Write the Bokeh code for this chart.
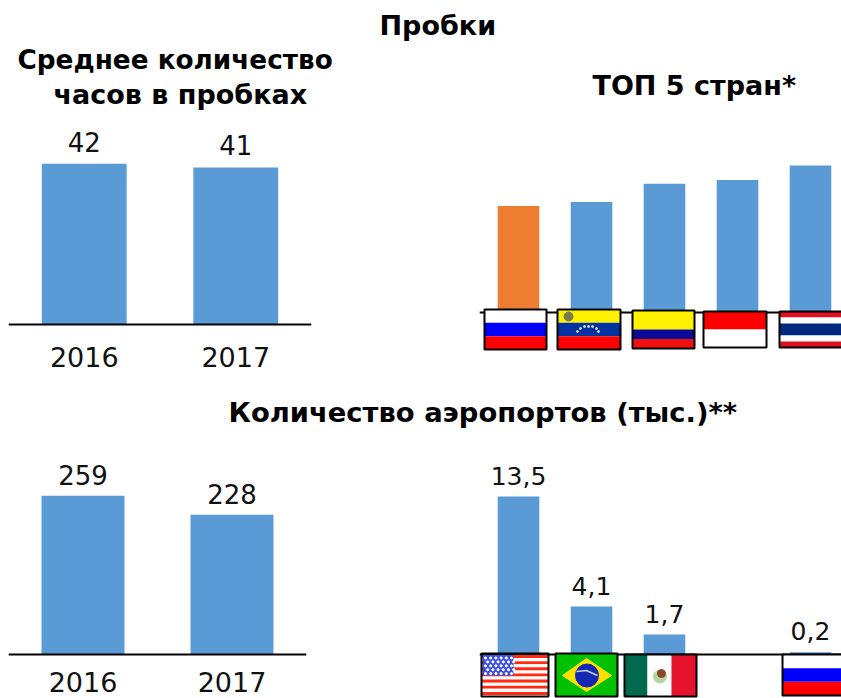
from bokeh.plotting import figure
from bokeh.layouts import column, row
from bokeh.models import Range1d, FactorRange, FixedTicker, Title
from bokeh.core.properties import value
from bokeh.embed import file_html
from bokeh.resources import INLINE

FONT = "DejaVu Sans"
BLUE = "#5b9bd5"
ORANGE = "#ed7d31"

title_main = "Пробки"
title_hours_1 = "Среднее количество"
title_hours_2 = "часов в пробках"
title_top5 = "ТОП 5 стран*"
title_airports = "Количество аэропортов (тыс.)**"

years = ["2016", "2017"]
hours = [42, 41]
airports = [259, 228]

top5_countries = ["Россия", "Венесуэла", "Колумбия", "Индонезия", "Таиланд"]
top5_values = [41, 42.5, 49.5, 51, 56.5]
top5_colors = [ORANGE, BLUE, BLUE, BLUE, BLUE]

airport_countries = ["США", "Бразилия", "Мексика", "", "Россия"]
airport_values = [13.5, 4.1, 1.7, None, 0.2]
airport_labels = ["13,5", "4,1", "1,7", "", "0,2"]


def base_fig(width, height, left, right, top, bottom, x_range, y_range):
    p = figure(width=width, height=height, x_range=x_range, y_range=y_range,
               output_backend="svg", toolbar_location=None, tools="",
               min_border_left=left, min_border_right=right,
               min_border_top=top, min_border_bottom=bottom,
               y_axis_location=None, background_fill_color="white",
               border_fill_color="white", outline_line_color=None)
    p.grid.visible = False
    return p


def style_axis(ax, font_size, standoff):
    ax.fixed_location = 0
    ax.axis_line_color = "black"
    ax.axis_line_width = 2
    ax.major_tick_line_color = None
    ax.minor_tick_line_color = None
    ax.major_tick_in = 0
    ax.major_tick_out = 0
    ax.major_label_text_font = FONT
    ax.major_label_text_font_size = font_size
    ax.major_label_text_color = "#111111"
    ax.major_label_standoff = standoff


def set_title(t, text, offset=0, size="27px", standoff=0):
    t.text = text
    t.align = "left"
    t.offset = offset
    t.text_font = FONT
    t.text_font_style = "bold"
    t.text_font_size = size
    t.text_color = "black"
    t.standoff = standoff


def title_strip(text, width, height, top, offset, size="27px"):
    p = base_fig(width, height, 0, 0, top, 0, Range1d(0, 1), Range1d(0, 1))
    p.xaxis.visible = False
    set_title(p.title, text, offset, size)
    return p


def year_chart(vals, bar_w, width, height, page_y0, page_top, left, right, page_base, px_per_unit, standoff, lab_off):
    page_bottom = page_y0 + height
    yr = Range1d((page_base - page_bottom) / px_per_unit, (page_base - page_top) / px_per_unit)
    p = base_fig(width, height, left, right, page_top - page_y0, 0,
                 FactorRange(*years, range_padding=0), yr)
    p.vbar(x=years, top=vals, bottom=0, width=bar_w, color=BLUE, line_color=None)
    p.text(x=years, y=vals, text=[str(v) for v in vals], text_font=value(FONT),
           text_font_size="26px", text_align="center", text_baseline="bottom",
           y_offset=lab_off, text_color="#111111")
    style_axis(p.xaxis[0], "27px", standoff)
    return p


def country_chart(names, vals, colors, width, height, page_y0, page_top, page_left, page_right,
                  page_base, page_x0, px_per_unit, slot_px):
    left = page_left - page_x0
    page_bottom = page_y0 + height
    xr = Range1d(-(FIRST_CENTER - page_left) / slot_px, (page_right - FIRST_CENTER) / slot_px)
    yr = Range1d((page_base - page_bottom) / px_per_unit, (page_base - page_top) / px_per_unit)
    p = base_fig(width, height, left, 0, page_top - page_y0, 0, xr, yr)
    p.extra_x_ranges = {"px": Range1d(page_left, page_right)}
    p.extra_y_ranges = {"px": Range1d(page_bottom, page_top)}
    idx = list(range(len(names)))
    xs = [i for i, v in zip(idx, vals) if v is not None]
    ys = [v for v in vals if v is not None]
    cs = [c for c, v in zip(colors, vals) if v is not None]
    p.vbar(x=xs, top=ys, bottom=0, width=BAR_SLOT, color=cs, line_color=None)
    p.xaxis.ticker = FixedTicker(ticks=[])
    style_axis(p.xaxis[0], "10px", 0)
    return p


def q(p, x0, x1, y0, y1, color, line=None, lw=0):
    p.quad(left=[x0], right=[x1], top=[y0], bottom=[y1], fill_color=color, line_color=line,
           line_width=lw, x_range_name="px", y_range_name="px", level="overlay")


def flag(p, x0, x1, y0, y1, bands):
    """Horizontal-striped flag: bands = [(colour, share), ...]"""
    tot = sum(s for _, s in bands)
    y = y0
    for c, s in bands:
        h = (y1 - y0) * s / tot
        q(p, x0, x1, y, y + h, c)
        y += h
    border(p, x0, x1, y0, y1)


def border(p, x0, x1, y0, y1):
    q(p, x0, x1, y0, y1, None, "black", 2)


RU = [("white", 1), ("#0000ff", 1), ("#ff0000", 1)]
FIRST_CENTER = 518
BAR_SLOT = 0.57

# ---------- top row ----------
strip1 = title_strip(title_main, 841, 44, 40, 379)

ROW2_Y = 44
ROW2_H = 343
chart_hours = year_chart(hours, 0.56, 348, ROW2_H, ROW2_Y, 112, 8, 37, 324, 3.83, 22, -12)
set_title(chart_hours.title, title_hours_1, 9, "26.3px", -3)
t2 = Title()
set_title(t2, title_hours_2, 45, "27px", 6)
chart_hours.add_layout(t2, "above")

chart_top5 = country_chart(top5_countries, top5_values, top5_colors, 493, ROW2_H, ROW2_Y, 112, 479, 841,
                           312, 348, 2.6, 73)
set_title(chart_top5.title, title_top5, 113, "27px", 24)

p = chart_top5
flag(p, 484, 546, 309, 349, RU)
flag(p, 557, 620, 309, 349, [("#fff200", 1), ("#0033a0", 1), ("#ff0000", 1)])
p.scatter(x=[568], y=[316], size=9, color="#7a7a50", x_range_name="px", y_range_name="px", level="overlay")
p.scatter(x=[577, 580, 584, 588, 592, 596, 598], y=[331, 328, 326, 326, 326, 328, 331], size=2,
          color="#dfe3ef", x_range_name="px", y_range_name="px", level="overlay")
flag(p, 632, 694, 310, 348, [("#fff200", 2), ("#0a0a96", 1), ("#f01010", 1)])
flag(p, 703, 766, 311, 347, [("#ff0000", 1), ("white", 1)])
flag(p, 779, 845, 311, 347, [("#e01020", 1), ("white", 1), ("#002a80", 2), ("white", 1), ("#e01020", 1)])

# ---------- section title ----------
strip2 = title_strip(title_airports, 841, 46, 40, 228, "27.4px")

# ---------- bottom row ----------
chart_airports = year_chart(airports, 0.557, 348, 265, 433, 441, 8, 42, 654, 0.613, 17, -11)

chart_world = country_chart(airport_countries, airport_values, [BLUE] * 5, 493, 265, 433, 441, 479, 841,
                            654, 348, 11.7, 73)
p = chart_world
lab_x = [i for i, v in enumerate(airport_values) if v is not None]
lab_y = [v for v in airport_values if v is not None]
lab_t = [t for t in airport_labels if t]
p.text(x=lab_x, y=lab_y, text=lab_t, text_font=value(FONT), text_font_size="25px",
       text_align="center", text_baseline="bottom", y_offset=-12, text_color="#111111")

# USA
x0, x1, y0, y1 = 481, 548, 653, 696
n = 13
for i in range(n):
    h = (y1 - y0 - 3) / n
    q(p, x0, x1, y0 + 1.5 + i * h, y0 + 1.5 + (i + 1) * h, "#ff2a10" if i % 2 == 0 else "white")
q(p, x0 + 1, 513, y0 + 1.5, 675, "#3c50e0")
sx, sy = [], []
for r in range(5):
    for c in range(6):
        sx.append(x0 + 4 + c * 5.2 + (r % 2) * 2.2)
        sy.append(y0 + 4.5 + r * 3.9)
p.scatter(x=sx, y=sy, size=2.2, color="white", x_range_name="px", y_range_name="px", level="overlay")
border(p, x0, x1, y0, y1)

# Brazil
x0, x1, y0, y1 = 555, 617, 653, 696
q(p, x0, x1, y0, y1, "#00c000")
p.patch(x=[562, 586, 611, 586], y=[675, 658, 675, 691], color="#ffe000",
        x_range_name="px", y_range_name="px", level="overlay")
p.scatter(x=[586.5], y=[675], size=23, color="#1428b4", x_range_name="px", y_range_name="px", level="overlay")
p.line(x=[576, 586, 597], y=[671, 670, 675], color="#c8d2e8", line_width=1.5,
       x_range_name="px", y_range_name="px", level="overlay")
border(p, x0, x1, y0, y1)

# Mexico
x0, x1, y0, y1 = 624, 696, 654, 696
q(p, x0, 647, y0, y1, "#006a4e")
q(p, 647, 671, y0, y1, "white")
q(p, 671, x1, y0, y1, "#e5132b")
p.scatter(x=[659.5], y=[676], size=13, color="#b8d4a0", x_range_name="px", y_range_name="px", level="overlay")
p.scatter(x=[661], y=[673], size=8, color="#8a4a28", x_range_name="px", y_range_name="px", level="overlay")
border(p, x0, x1, y0, y1)

# Russia
flag(p, 782, 845, 654, 695, RU)

layout = column(strip1,
                row(chart_hours, chart_top5),
                strip2,
                row(chart_airports, chart_world))

open("out.html", "w").write(file_html(layout, INLINE))
